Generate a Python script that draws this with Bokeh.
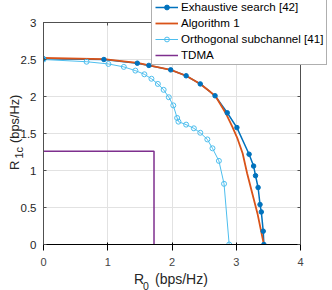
from math import pi
from bokeh.plotting import figure
from bokeh.models import (Range1d, FixedTicker, LinearAxis, Legend, LegendItem,
                          Label, CustomJSTickFormatter, GridBox)
from bokeh.embed import file_html
from bokeh.resources import INLINE

# ---- data ----
exh_x = [0, 0.94, 1.46, 1.64, 1.98, 2.22, 2.44, 2.67, 2.86, 3.01, 3.20, 3.27, 3.30, 3.34, 3.37, 3.39, 3.42, 3.43]
exh_y = [2.51, 2.50, 2.45, 2.42, 2.36, 2.28, 2.17, 2.01, 1.78, 1.58, 1.22, 1.06, 0.93, 0.77, 0.54, 0.44, 0.18, 0.0]

alg_x = [0, 0.94, 1.46, 1.98, 2.22, 2.44, 2.60, 2.68, 2.84, 2.94, 3.02, 3.10, 3.17, 3.25, 3.33, 3.43]
alg_y = [2.52, 2.505, 2.455, 2.36, 2.28, 2.17, 2.06, 2.00, 1.77, 1.59, 1.43, 1.23, 0.96, 0.69, 0.42, 0.0]

orth_x = [0, 0.67, 1.01, 1.25, 1.43, 1.57, 1.68, 1.78, 1.87, 1.95, 2.02, 2.08, 2.10, 2.22, 2.34, 2.44, 2.55, 2.63, 2.73, 2.81, 2.89]
orth_y = [2.50, 2.47, 2.44, 2.40, 2.35, 2.30, 2.24, 2.17, 2.09, 1.99, 1.88, 1.71, 1.66, 1.62, 1.57, 1.51, 1.42, 1.30, 1.13, 0.82, 0.0]

tdma_x = [0, 1.72, 1.72]
tdma_y = [1.26, 1.26, 0]

x_ticks = [0, 1, 2, 3, 4]
y_ticks = [0, 0.5, 1, 1.5, 2, 2.5, 3]

labels = ["Exhaustive search [42]", "Algorithm 1", "Orthogonal subchannel [41]", "TDMA"]

C_EXH, C_ALG, C_ORTH, C_TDMA = "#0072BD", "#D95319", "#4DBEEE", "#7E2F8E"
FONT = "Liberation Sans"
AX = "#505050"
TXT = "#262626"
W, H = 332, 290

# ---- main chart ----
p = figure(width=W, height=H,
           min_border_left=43, min_border_right=32, min_border_top=22, min_border_bottom=46,
           x_range=Range1d(0, 4), y_range=Range1d(0, 3),
           output_backend="svg", toolbar_location=None)
p.frame_align = False
p.outline_line_color = AX

fmt = CustomJSTickFormatter(code="return tick.toString();")
empty = CustomJSTickFormatter(code="return '';")

p.xaxis.ticker = FixedTicker(ticks=x_ticks)
p.yaxis.ticker = FixedTicker(ticks=y_ticks)
p.xaxis.formatter = fmt
p.yaxis.formatter = fmt
p.xaxis.major_label_standoff = 7
p.yaxis.major_label_standoff = 7

top_ax = LinearAxis(ticker=FixedTicker(ticks=x_ticks), formatter=empty)
right_ax = LinearAxis(ticker=FixedTicker(ticks=y_ticks), formatter=empty)
p.add_layout(top_ax, "above")
p.add_layout(right_ax, "right")

for ax in [p.xaxis[0], p.yaxis[0], top_ax, right_ax]:
    ax.axis_line_color = AX
    ax.major_tick_line_color = AX
    ax.major_tick_in = 3
    ax.major_tick_out = 0
    ax.minor_tick_line_color = None
    ax.major_label_text_font = FONT
    ax.major_label_text_font_size = "11.5px"
    ax.major_label_text_color = TXT
for ax in [top_ax, right_ax]:
    ax.major_label_text_font_size = "1px"
    ax.major_label_standoff = 0

p.xgrid.ticker = FixedTicker(ticks=x_ticks)
p.ygrid.ticker = FixedTicker(ticks=y_ticks)
p.grid.grid_line_color = "#e2e2e2"

p.line(exh_x, exh_y, line_color=C_EXH, line_width=1.5)
p.line(alg_x, alg_y, line_color=C_ALG, line_width=1.8)
p.scatter(exh_x, exh_y, size=4.5, color=C_EXH)
p.line(orth_x, orth_y, line_color=C_ORTH, line_width=1)
p.scatter(orth_x, orth_y, size=5, line_color=C_ORTH, fill_color=None, line_width=1)
p.line(tdma_x, tdma_y, line_color=C_TDMA, line_width=1.5)

# ---- transparent overlay (pixel coordinates) for legend and axis titles ----
q = figure(frame_width=W, frame_height=H, x_range=Range1d(0, W), y_range=Range1d(0, H),
           x_axis_type=None, y_axis_type=None,
           min_border_left=0, min_border_right=0, min_border_top=0, min_border_bottom=0,
           output_backend="svg", toolbar_location=None, title=None)
q.frame_align = False
q.background_fill_color = None
q.border_fill_color = None
q.outline_line_color = None

# legend proxies (a single point placed off-canvas so nothing shows)
off_x, off_y = [-100], [-100]
g_exh_l = q.line(off_x, off_y, line_color=C_EXH, line_width=1.5)
g_exh_m = q.scatter(off_x, off_y, size=4.5, color=C_EXH)
g_alg = q.line(off_x, off_y, line_color=C_ALG, line_width=1.8)
g_orth_l = q.line(off_x, off_y, line_color=C_ORTH, line_width=1)
g_orth_m = q.scatter(off_x, off_y, size=5, line_color=C_ORTH, fill_color=None, line_width=1)
g_tdma = q.line(off_x, off_y, line_color=C_TDMA, line_width=1.5)

legend = Legend(items=[
    LegendItem(label=labels[0], renderers=[g_exh_l, g_exh_m]),
    LegendItem(label=labels[1], renderers=[g_alg]),
    LegendItem(label=labels[2], renderers=[g_orth_l, g_orth_m]),
    LegendItem(label=labels[3], renderers=[g_tdma]),
], location=(151, 225), label_text_font=FONT, label_text_font_size="11.6px",
   label_text_color="#000000", glyph_width=23, glyph_height=12, label_height=12,
   spacing=3, padding=3, margin=0, label_standoff=3,
   border_line_color="#606060", background_fill_color="white", background_fill_alpha=1.0)
q.add_layout(legend)

def lab(text, px, py, size, angle=0.0):
    q.add_layout(Label(x=px, y=H - py, text=text, angle=angle,
                       text_font=FONT, text_font_size=size, text_color=TXT,
                       text_align="left", text_baseline="alphabetic"))

# x axis title: R_0 (bps/Hz)
lab("R", 133.5, 278.5, "14px")
lab("0", 142.5, 285.5, "10.5px")
lab("(bps/Hz)", 154.5, 278.5, "14px")
# y axis title: R_1c (bps/Hz)
lab("R", 14, 169.5, "13px", pi / 2)
lab("1c", 18.3, 158, "11px", pi / 2)
lab("(bps/Hz)", 14, 142.5, "12.8px", pi / 2)

layout = GridBox(children=[(p, 0, 0), (q, 0, 0)])

open("out.html", "w").write(file_html(layout, INLINE))
